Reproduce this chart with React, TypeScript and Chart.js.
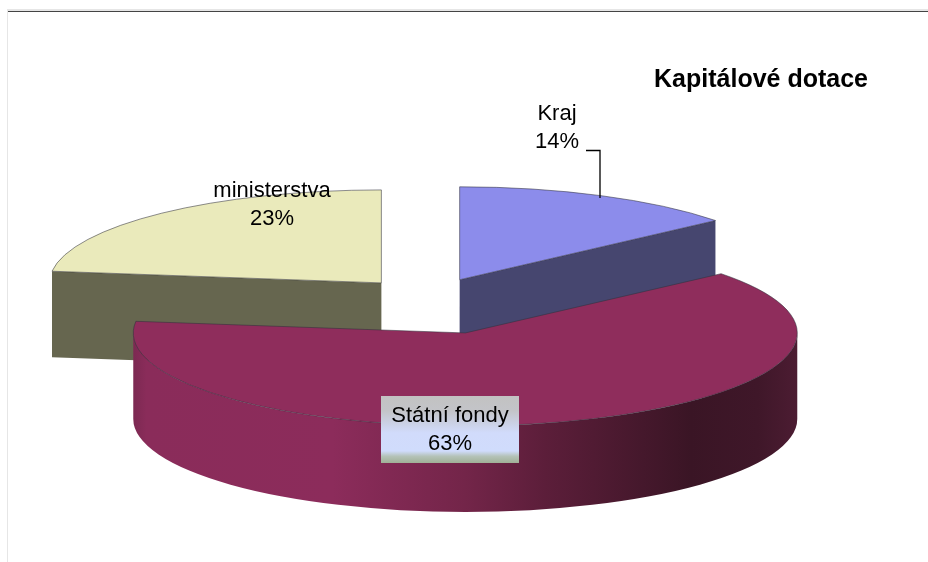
import React, { useEffect, useRef } from "react";
import { Chart, PieController, registerables } from "chart.js";

const categories = ["Kraj", "Státní fondy", "ministerstva"];
const shares = [14, 63, 23];
const chartTitle = "Kapitálové dotace";

const topColors = ["#8c8ceb", "#8f2d5c", "#eaeabb"];
const faceColors = ["#46466f", "#5c1d3b", "#66664f"];
const explode = [72, 130, 72];
const rimStops: [number, string][] = [
  [0, "#7c2952"],
  [0.02, "#8a2c5a"],
  [0.3, "#8c2c5b"],
  [0.5, "#732549"],
  [0.62, "#5c1e3a"],
  [0.84, "#3a1525"],
  [0.94, "#3f1729"],
  [1, "#4c1c32"],
];
const TILT = 0.28;
const DEPTH = 86;
const RADIUS = 332;
const CANVAS_SHIFT = 10;
const labelCentres: [number, number][] = [
  [557, 127.5],
  [450, 429.5],
  [272, 204.5],
];

class Pie3D extends PieController {
  static id = "pie3d";
  draw() {
    const ctx: CanvasRenderingContext2D = (this as any).chart.ctx;
    const arcs: any[] = (this as any)._cachedMeta.data;
    const shapes = arcs.map((arc, i) => {
      const mid = (arc.startAngle + arc.endAngle) / 2;
      const off = arc.options.offset || 0;
      return {
        i,
        arc,
        a0: arc.startAngle,
        a1: arc.endAngle,
        R: arc.outerRadius,
        ox: arc.x + off * Math.cos(mid),
        oy: arc.y + off * Math.sin(mid) * TILT,
      };
    });
    shapes.sort((p, q) => p.oy - q.oy);
    for (const s of shapes) {
      const { a0, a1, R, ox, oy } = s;
      const ry = R * TILT;
      const rim = (a: number) => [ox + R * Math.cos(a), oy + ry * Math.sin(a)];
      const face = (a: number) => {
        const [x, y] = rim(a);
        ctx.beginPath();
        ctx.moveTo(ox, oy);
        ctx.lineTo(x, y);
        ctx.lineTo(x, y + DEPTH);
        ctx.lineTo(ox, oy + DEPTH);
        ctx.closePath();
        ctx.fillStyle = faceColors[s.i];
        ctx.fill();
      };
      ctx.save();
      if (Math.sin(a0 - Math.PI / 2) > 1e-6) face(a0);
      if (Math.sin(a1 + Math.PI / 2) > 1e-6) face(a1);
      const from = Math.max(a0, 0);
      const to = Math.min(a1, Math.PI);
      if (to > from) {
        const g = ctx.createLinearGradient(ox - R, 0, ox + R, 0);
        rimStops.forEach(([p, c]) => g.addColorStop(p, c));
        ctx.beginPath();
        ctx.ellipse(ox, oy, R, ry, 0, from, to);
        ctx.ellipse(ox, oy + DEPTH, R, ry, 0, to, from, true);
        ctx.closePath();
        ctx.fillStyle = g;
        ctx.fill();
      }
      ctx.beginPath();
      ctx.moveTo(ox, oy);
      ctx.ellipse(ox, oy, R, ry, 0, a0, a1);
      ctx.closePath();
      ctx.fillStyle = s.arc.options.backgroundColor;
      ctx.fill();
      ctx.strokeStyle = s.arc.options.borderColor;
      ctx.lineWidth = s.arc.options.borderWidth;
      ctx.stroke();
      ctx.restore();
    }
  }
}

Chart.register(...registerables, Pie3D as any);

const framePlugin = {
  id: "frame",
  beforeDraw(chart: any) {
    const { ctx } = chart;
    ctx.save();
    ctx.translate(CANVAS_SHIFT, 0);
    ctx.fillStyle = "#e6e6e6";
    ctx.fillRect(7, 9, 1, 553);
    ctx.fillRect(7, 9, 921, 2);
    ctx.fillStyle = "#444444";
    ctx.fillRect(8, 11, 920, 1);
    ctx.restore();
  },
};

const labelPlugin = {
  id: "sliceLabels",
  afterDatasetsDraw(chart: any) {
    const { ctx } = chart;
    ctx.save();
    ctx.translate(CANVAS_SHIFT, 0);
    // leader line of the first label
    ctx.strokeStyle = "#000";
    ctx.lineWidth = 1.3;
    ctx.beginPath();
    ctx.moveTo(586, 150.5);
    ctx.lineTo(600, 150.5);
    ctx.lineTo(600, 198);
    ctx.stroke();
    // box behind the biggest slice's label
    const g = ctx.createLinearGradient(0, 396, 0, 463);
    g.addColorStop(0, "#c2c2c2");
    g.addColorStop(0.22, "#c3c4c8");
    g.addColorStop(0.55, "#d1dbfb");
    g.addColorStop(0.82, "#d0dcfc");
    g.addColorStop(0.9, "#b4c2b8");
    g.addColorStop(1, "#a0b096");
    ctx.fillStyle = g;
    ctx.fillRect(381, 396, 138, 67);
    ctx.fillStyle = "#000";
    ctx.font = '22px "Liberation Sans"';
    ctx.textAlign = "center";
    ctx.textBaseline = "middle";
    categories.forEach((name, i) => {
      const [x, y] = labelCentres[i];
      ctx.fillText(name, x, y - 14);
      ctx.fillText(`${shares[i]}%`, x, y + 14);
    });
    ctx.restore();
  },
};

export default function App() {
  const ref = useRef<HTMLCanvasElement>(null);
  useEffect(() => {
    const chart = new Chart(ref.current!, {
      type: "pie3d" as any,
      data: {
        labels: categories,
        datasets: [
          {
            data: shares,
            backgroundColor: topColors,
            borderColor: "rgba(50,50,60,0.55)",
            borderWidth: 1,
            offset: explode,
          },
        ],
      },
      options: {
        animation: false,
        responsive: false,
        maintainAspectRatio: false,
        events: [],
        radius: RADIUS,
        layout: {
          autoPadding: false,
          padding: { left: 0, right: 60, top: 0, bottom: 61 },
        },
        plugins: {
          legend: { display: false },
          tooltip: { enabled: false },
          title: {
            display: true,
            text: chartTitle,
            align: "end",
            color: "#000",
            font: { family: '"Liberation Sans"', size: 25, weight: "bold" },
            padding: { top: 65, bottom: 0 },
          },
        },
      } as any,
      plugins: [framePlugin, labelPlugin],
    });
    return () => chart.destroy();
  }, []);
  return (
    <div style={{ position: "fixed", left: 0, top: 0, width: 928, height: 562, background: "#fff", overflow: "hidden" }}>
      <canvas ref={ref} width={928 + CANVAS_SHIFT} height={562} style={{ display: "block", marginLeft: -CANVAS_SHIFT }} />
    </div>
  );
}
